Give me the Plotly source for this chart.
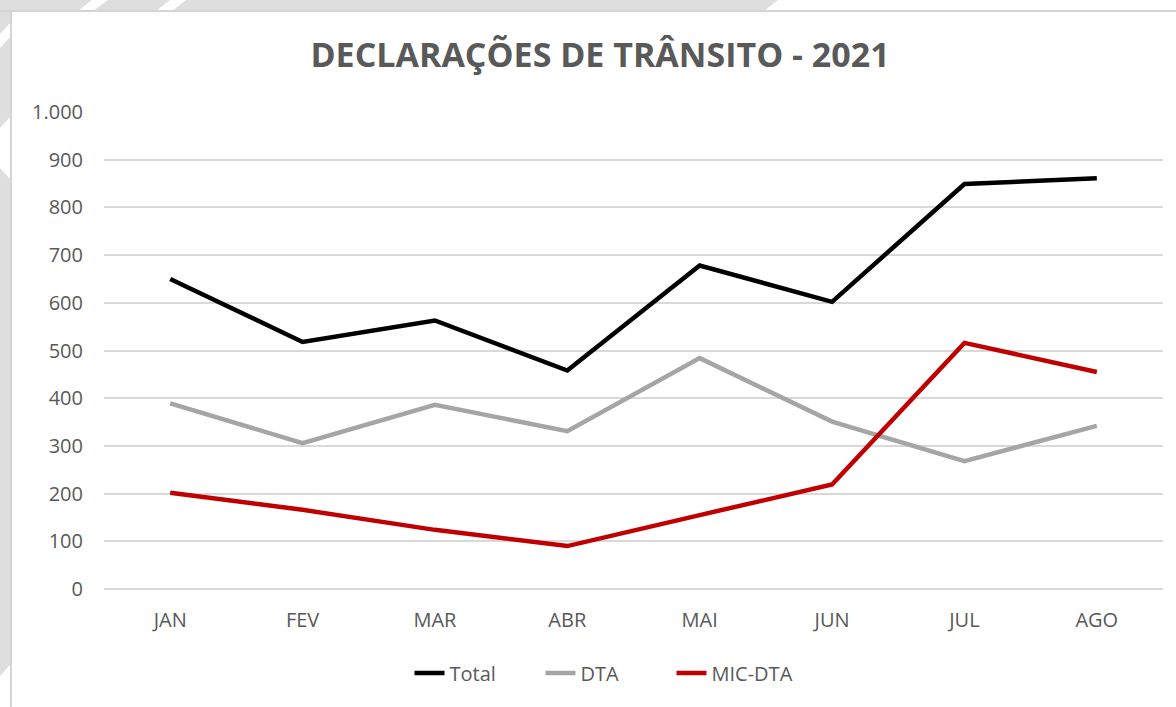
import plotly.graph_objects as go

# ── Data ──────────────────────────────────────────────────────────────────────
MESES = ["JAN", "FEV", "MAR", "ABR", "MAI", "JUN", "JUL", "AGO"]
TOTAL = [650, 518, 563, 458, 678, 602, 849, 861]
DTA = [389, 306, 386, 331, 484, 351, 268, 342]
MIC_DTA = [202, 166, 124, 90, 155, 219, 516, 455]

COLOR_TOTAL = "#000000"
COLOR_DTA = "#A5A5A5"
COLOR_MIC = "#C00000"
COLOR_TEXT = "#595959"
COLOR_GRID = "#D9D9D9"
COLOR_FRAME = "#DEDEDE"

W, H = 1176, 707
M_L, M_R, M_T, M_B = 104, 13, 112, 118
PW, PH = W - M_L - M_R, H - M_T - M_B


def px(x, y):
    # pixel position -> paper coords (plot area relative)
    return (x - M_L) / PW, (H - M_B - y) / PH


def poly(points, color):
    pts = [px(x, y) for x, y in points]
    path = "M " + " L ".join(f"{a:.5f},{b:.5f}" for a, b in pts) + " Z"
    return dict(type="path", xref="paper", yref="paper", path=path,
                fillcolor=color, line=dict(width=0), layer="below")


fig = go.Figure()
for name, vals, color in [("Total", TOTAL, COLOR_TOTAL),
                          ("DTA", DTA, COLOR_DTA),
                          ("MIC-DTA", MIC_DTA, COLOR_MIC)]:
    fig.add_trace(go.Scatter(
        x=MESES, y=vals, name=name, mode="lines",
        line=dict(color=color, width=4.5),
    ))

# slide background behind the chart box (gray frame with white stripes)
shapes = [
    poly([(0, 0), (778, 0), (764, 11), (0, 11)], COLOR_FRAME),
    poly([(0, 0), (11, 0), (11, 664), (0, 676)], COLOR_FRAME),
    poly([(92, 0), (108, 0), (93, 11), (78, 11)], "#FFFFFF"),
    poly([(170, 0), (186, 0), (172, 11), (156, 11)], "#FFFFFF"),
    poly([(0, 34), (11, 22), (11, 36), (0, 48)], "#FFFFFF"),
    poly([(0, 128), (11, 116), (11, 180), (0, 168)], "#FFFFFF"),
]
x0, y_top = px(0, 11)
x1, _ = px(W, 11)
shapes.append(dict(type="line", xref="paper", yref="paper",
                   x0=x0, x1=x1, y0=y_top, y1=y_top,
                   line=dict(color="#D4D4D4", width=2), layer="below"))
xl, _ = px(11, 0)
_, yb = px(0, H)
shapes.append(dict(type="line", xref="paper", yref="paper",
                   x0=xl, x1=xl, y0=yb, y1=y_top,
                   line=dict(color="#D4D4D4", width=2), layer="below"))

fig.update_layout(
    width=W, height=H,
    margin=dict(l=M_L, r=M_R, t=M_T, b=M_B),
    paper_bgcolor="#FFFFFF",
    plot_bgcolor="rgba(0,0,0,0)",
    separators=",.",
    font=dict(family="Open Sans, sans-serif", size=20, color=COLOR_TEXT),
    title=dict(
        text="<b>DECLARAÇÕES DE TRÂNSITO - 2021</b>",
        xref="container", yref="container",
        x=600 / W, y=1 - 55 / H, xanchor="center", yanchor="middle",
        font=dict(family="Open Sans, sans-serif", size=34, color=COLOR_TEXT),
    ),
    legend=dict(
        orientation="h", xref="container", yref="container",
        x=606 / W, y=1 - 673 / H, xanchor="center", yanchor="middle",
        font=dict(size=20, color=COLOR_TEXT), itemwidth=30,
        entrywidth=86, bgcolor="rgba(0,0,0,0)",
    ),
    shapes=shapes,
    showlegend=True,
)
fig.update_xaxes(
    range=[-0.5, len(MESES) - 0.5],
    showgrid=False, zeroline=False, showline=False,
    ticks="", ticklabelstandoff=17,
    tickfont=dict(size=20, color=COLOR_TEXT),
)
fig.update_yaxes(
    range=[0, 1000], dtick=100, tickformat=",d",
    showgrid=True, gridcolor=COLOR_GRID, gridwidth=2,
    zeroline=True, zerolinecolor=COLOR_GRID, zerolinewidth=2,
    showline=False, ticks="", ticklabelstandoff=20,
    tickfont=dict(size=20, color=COLOR_TEXT),
)

# drop the browser's default 8px page margin so the figure sits at 0,0
fig.write_html("out.html", config={"displayModeBar": False},
               post_script="document.body.style.margin='0';")
